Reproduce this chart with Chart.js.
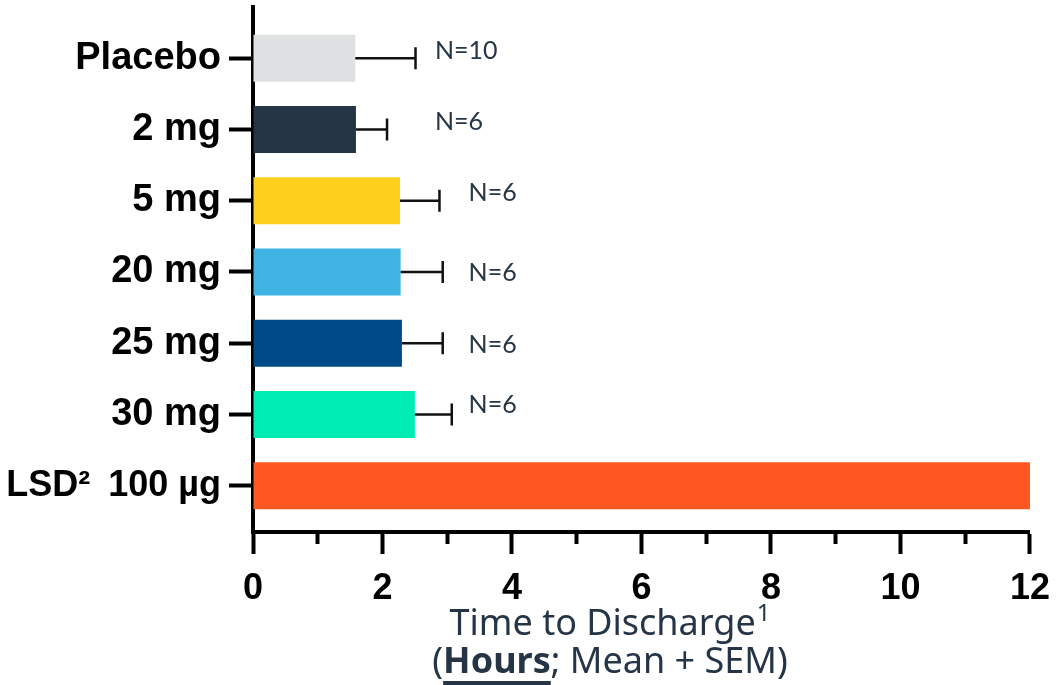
<!DOCTYPE html>
<html>
<head>
<meta charset="utf-8">
<script src="https://cdn.jsdelivr.net/npm/chart.js@4.4.1/dist/chart.umd.min.js"></script>
<style>
  html, body { margin: 0; padding: 0; background: #fff; }
  #wrap { width: 1063px; height: 685px; }
</style>
</head>
<body>
<div id="wrap"><canvas id="chart"></canvas></div>
<script>
var groups = ['Placebo', '2 mg', '5 mg', '20 mg', '25 mg', '30 mg', 'LSD\u00B2\u2002100 \u00B5g'];
var meanHours = [1.58, 1.59, 2.27, 2.28, 2.30, 2.50, 12];
var semHours = [0.93, 0.48, 0.61, 0.65, 0.63, 0.57, null];
var nLabels = ['N=10', 'N=6', 'N=6', 'N=6', 'N=6', 'N=6', ''];
var barColors = ['#e0e1e3', '#263545', '#fdd11b', '#41b4e6', '#004a87', '#00ecb5', '#ff5722'];
var xTicks = [0, 2, 4, 6, 8, 10, 12];

// where the N= notes sit (x in hours, y shift in rows)
var nAt = [2.81, 2.81, 3.33, 3.33, 3.33, 3.33];
var nShift = [-0.1, -0.1, -0.11, 0.01, 0.02, -0.14];

var navy = '#263545';

var errorBars = {
	id: 'errorBars',
	afterDatasetsDraw: function(chart) {
		var ctx = chart.ctx;
		var xs = chart.scales.x;
		var meta = chart.getDatasetMeta(0);
		ctx.save();
		ctx.strokeStyle = '#111';
		ctx.lineWidth = 2.5;
		meta.data.forEach(function(bar, i) {
			if (semHours[i] == null) return;
			var x1 = xs.getPixelForValue(meanHours[i] + semHours[i]);
			ctx.beginPath();
			ctx.moveTo(bar.x, bar.y);
			ctx.lineTo(x1, bar.y);
			ctx.moveTo(x1, bar.y - 11);
			ctx.lineTo(x1, bar.y + 11);
			ctx.stroke();
		});
		ctx.fillStyle = navy;
		ctx.font = '25px Lato';
		ctx.textAlign = 'left';
		ctx.textBaseline = 'middle';
		var ys = chart.scales.y;
		nAt.forEach(function(v, i) {
			ctx.fillText(nLabels[i], xs.getPixelForValue(v), ys.getPixelForValue(i + nShift[i]));
		});
		ctx.restore();
	}
};

var axisTitle = {
	id: 'axisTitle',
	afterDraw: function(chart) {
		var ctx = chart.ctx;
		ctx.save();
		ctx.fillStyle = navy;
		ctx.textBaseline = 'alphabetic';
		ctx.textAlign = 'left';
		var cx = 610;
		// line 1
		ctx.font = '36px "Noto Sans"';
		var t1 = 'Time to Discharge';
		var w1 = ctx.measureText(t1).width;
		ctx.font = '24px "Noto Sans"';
		var wSup = ctx.measureText('1').width;
		var x = cx - (w1 + wSup + 1) / 2;
		ctx.font = '36px "Noto Sans"';
		ctx.fillText(t1, x, 635);
		ctx.font = '24px "Noto Sans"';
		ctx.fillText('1', x + w1 + 1, 621);
		// line 2
		var parts = [
			['(', '36px "Noto Sans"'],
			['Hours', 'bold 36px "Noto Sans"'],
			['; Mean + SEM)', '36px "Noto Sans"']
		];
		var total = 0;
		parts.forEach(function(p) { ctx.font = p[1]; p.push(ctx.measureText(p[0]).width); total += p[2]; });
		x = cx - total / 2;
		parts.forEach(function(p, k) {
			ctx.font = p[1];
			ctx.fillText(p[0], x, 673);
			if (k === 1) ctx.fillRect(x, 681, p[2], 4);
			x += p[2];
		});
		ctx.restore();
	}
};

new Chart(document.getElementById('chart'), {
	type: 'bar',
	data: {
		datasets: [{
			data: meanHours.map(function(v, i) { return {x: v, y: i}; }),
			backgroundColor: barColors,
			borderWidth: 0,
			barPercentage: 0.66,
			categoryPercentage: 1
		}]
	},
	options: {
		indexAxis: 'y',
		responsive: true,
		maintainAspectRatio: false,
		animation: false,
		layout: { padding: { top: 7, right: 27, left: 0, bottom: 0 } },
		plugins: { legend: { display: false }, tooltip: { enabled: false } },
		scales: {
			y: {
				type: 'linear',
				reverse: true,
				offset: false,
				min: -0.72,
				max: 6.65,
				afterBuildTicks: function(scale) {
					scale.ticks = groups.map(function(g, i) { return {value: i}; });
				},
				afterFit: function(scale) {
					scale.width = 253;
					scale.paddingTop = 0;
					scale.paddingBottom = 0;
				},
				border: { display: true, width: 4, color: '#000' },
				grid: { display: true, offset: false, drawOnChartArea: false, drawTicks: true, tickLength: 24, tickWidth: 4, tickColor: '#000' },
				ticks: {
					padding: 8,
					color: '#000',
					font: function(c) {
						return { family: '"Liberation Sans"', size: c.index === 6 ? 36 : 38, weight: 'bold' };
					},
					callback: function(v) { return groups[v]; }
				}
			},
			x: {
				type: 'linear',
				min: 0,
				max: 12,
				afterBuildTicks: function(scale) {
					var t = [];
					for (var v = 0; v <= 12; v++) t.push({value: v});
					scale.ticks = t;
				},
				afterFit: function(scale) { scale.height = 153; },
				border: { display: true, width: 4, color: '#000' },
				grid: {
					display: true, drawOnChartArea: false, drawTicks: true,
					tickLength: 22, tickWidth: 4, tickColor: '#000',
					tickBorderDash: function(c) { return xTicks.indexOf(c.tick ? c.tick.value : -1) < 0 ? [10, 40] : []; }
				},
				ticks: {
					autoSkip: false,
					maxRotation: 0,
					padding: 13,
					color: '#000',
					font: { family: '"Liberation Sans"', size: 36, weight: 'bold' },
					callback: function(v) { return xTicks.indexOf(v) >= 0 ? String(v) : ''; }
				}
			}
		}
	},
	plugins: [errorBars, axisTitle]
});
</script>
</body>
</html>
